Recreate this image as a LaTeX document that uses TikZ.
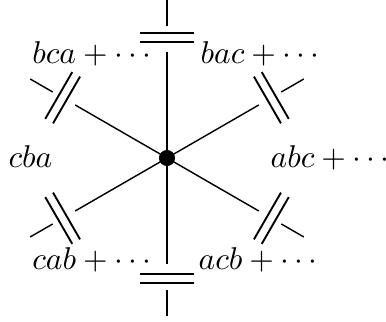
\documentclass[tikz,border=0pt]{standalone}
\begin{document}
\begin{tikzpicture}[x=0.3175pt,y=0.3175pt,
  wire/.style={line width=0.45pt},
  plate/.style={line width=0.6pt},
  lbl/.style={inner sep=0pt,anchor=base west},
  hub/.style={circle,fill=black,inner sep=0pt,minimum size=5pt}]
\useasboundingbox (-167,-164) rectangle (219,158);
\node[hub] (C) at (0,0) {};
\foreach \a/\n in {90/t,30/tr,-30/br,-90/b,150/tl,210/bl}{
  \begin{scope}[rotate=\a]
    \coordinate (\n i) at (106,0);
    \coordinate (\n pa1) at (116,-27);
    \coordinate (\n pa2) at (116,27);
    \coordinate (\n pb1) at (125,-27);
    \coordinate (\n pb2) at (125,27);
    \coordinate (\n s1) at (132,0);
    \coordinate (\n s2) at (158,0);
  \end{scope}
  \draw[wire] (C.center) -- (\n i);
  \draw[plate] (\n pa1) -- (\n pa2);
  \draw[plate] (\n pb1) -- (\n pb2);
  \draw[wire] (\n s1) -- (\n s2);
}
\node[hub] at (C) {};
\node[lbl] (l1) at (-135.3,94) {$bca+\cdots$};
\node[lbl] (l2) at (33,94) {$bac+\cdots$};
\node[lbl] (l3) at (-159,-10) {$cba$};
\node[lbl] (l4) at (103,-10) {$abc+\cdots$};
\node[lbl] (l5) at (-135.3,-112) {$cab+\cdots$};
\node[lbl] (l6) at (31,-111.5) {$acb+\cdots$};
\end{tikzpicture}
\end{document}
